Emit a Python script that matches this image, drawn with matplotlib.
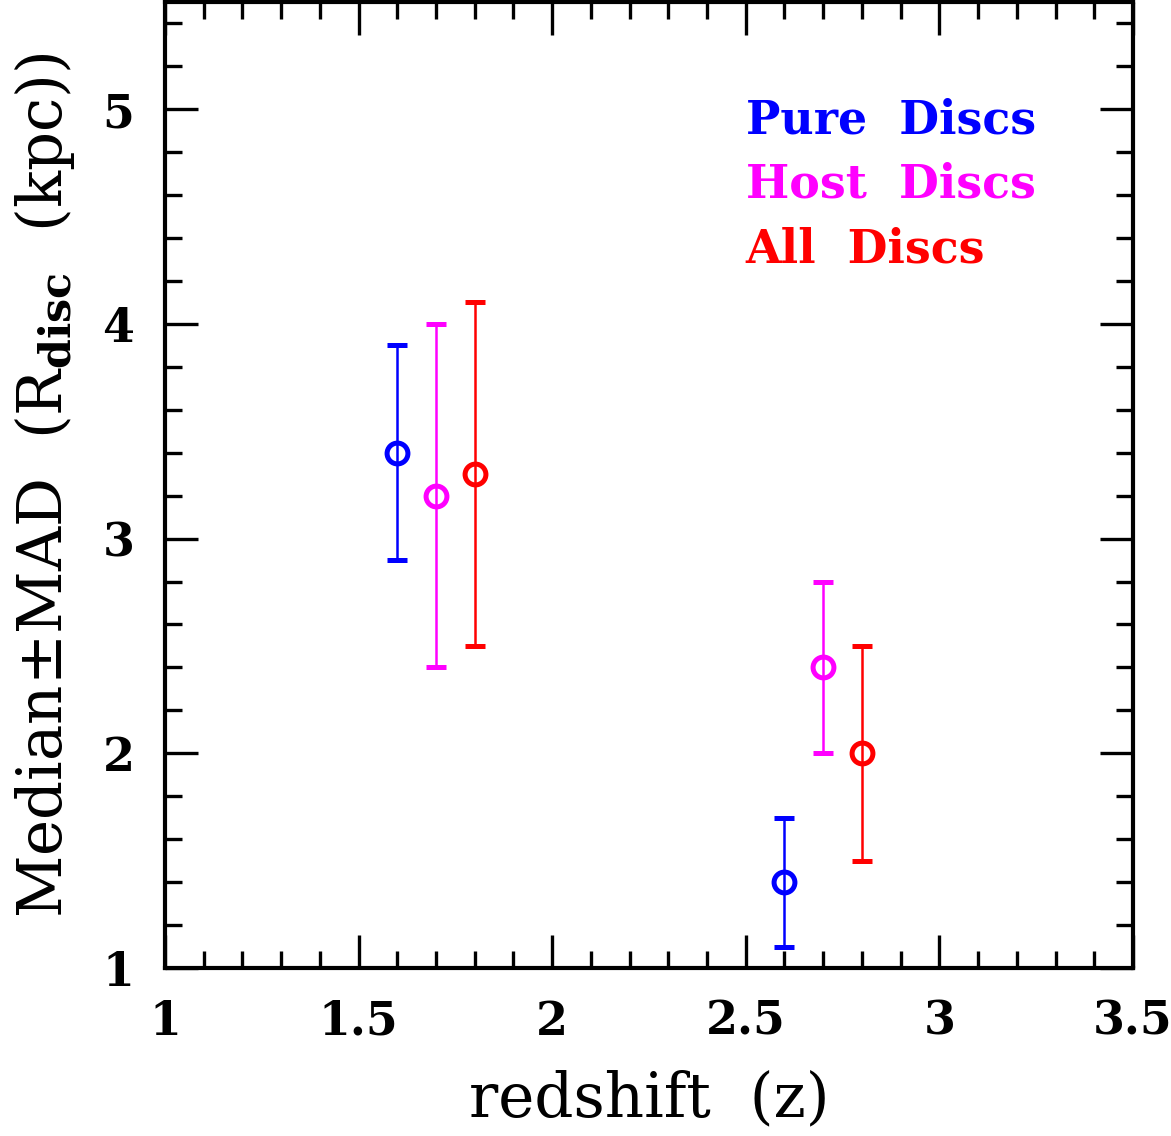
import matplotlib
matplotlib.use("Agg")
import matplotlib.pyplot as plt
from matplotlib.ticker import MultipleLocator

# Medianas e MAD por amostra
grupos = ["Pure Discs", "Host Discs", "All Discs"]
cores = ["#0000ff", "#ff00ff", "#ff0000"]
redshift_pure = [1.6, 2.6]
raio_pure = [3.4, 1.4]
mad_pure = [0.5, 0.3]
redshift_host = [1.7, 2.7]
raio_host = [3.2, 2.4]
mad_host = [0.8, 0.4]
redshift_all = [1.8, 2.8]
raio_all = [3.3, 2.0]
mad_all = [0.8, 0.5]

series = [
    (redshift_pure, raio_pure, mad_pure),
    (redshift_host, raio_host, mad_host),
    (redshift_all, raio_all, mad_all),
]

plt.rcParams["font.family"] = ["DejaVu Serif"]
plt.rcParams["mathtext.fontset"] = "dejavuserif"

fig = plt.figure(figsize=(11.71, 11.36), dpi=100)
ax = fig.add_axes([0.1409, 0.1479, 0.8266, 0.8505])

for (z, r, e), cor in zip(series, cores):
    ax.errorbar(z, r, yerr=e, fmt="o", mfc="none", mec=cor, mew=3.6, ms=15,
                ecolor=cor, elinewidth=1.8, capsize=7, capthick=1.8)

ax.set_xlim(1, 3.5)
ax.set_ylim(1, 5.5)
ax.xaxis.set_major_locator(MultipleLocator(0.5))
ax.xaxis.set_minor_locator(MultipleLocator(0.1))
ax.yaxis.set_major_locator(MultipleLocator(1))
ax.yaxis.set_minor_locator(MultipleLocator(0.2))
ax.set_xticks([1, 1.5, 2, 2.5, 3, 3.5])
ax.set_xticklabels(["1", "1.5", "2", "2.5", "3", "3.5"])
ax.set_yticks([1, 2, 3, 4, 5])
ax.set_yticklabels(["1", "2", "3", "4", "5"])
ax.tick_params(which="both", direction="in", top=True, right=True, width=2.4,
               labelsize=33, pad=22)
ax.tick_params(which="major", length=24)
ax.tick_params(which="minor", length=12)
for lab in ax.get_xticklabels() + ax.get_yticklabels():
    lab.set_fontweight("bold")
for sp in ax.spines.values():
    sp.set_linewidth(3)

ax.set_xlabel("redshift  (z)", fontsize=44, labelpad=18)
ax.set_ylabel(r"Median$\pm$MAD  (R$_{\mathbf{disc}}$  (kpc))", fontsize=44,
              labelpad=18)

for i, (nome, cor) in enumerate(zip(grupos, cores)):
    ax.text(0.6, 0.864 - i * 0.0668, nome.replace(" ", "  "), color=cor,
            fontsize=33, fontweight="bold", transform=ax.transAxes)

fig.savefig("out.png", dpi=100)
